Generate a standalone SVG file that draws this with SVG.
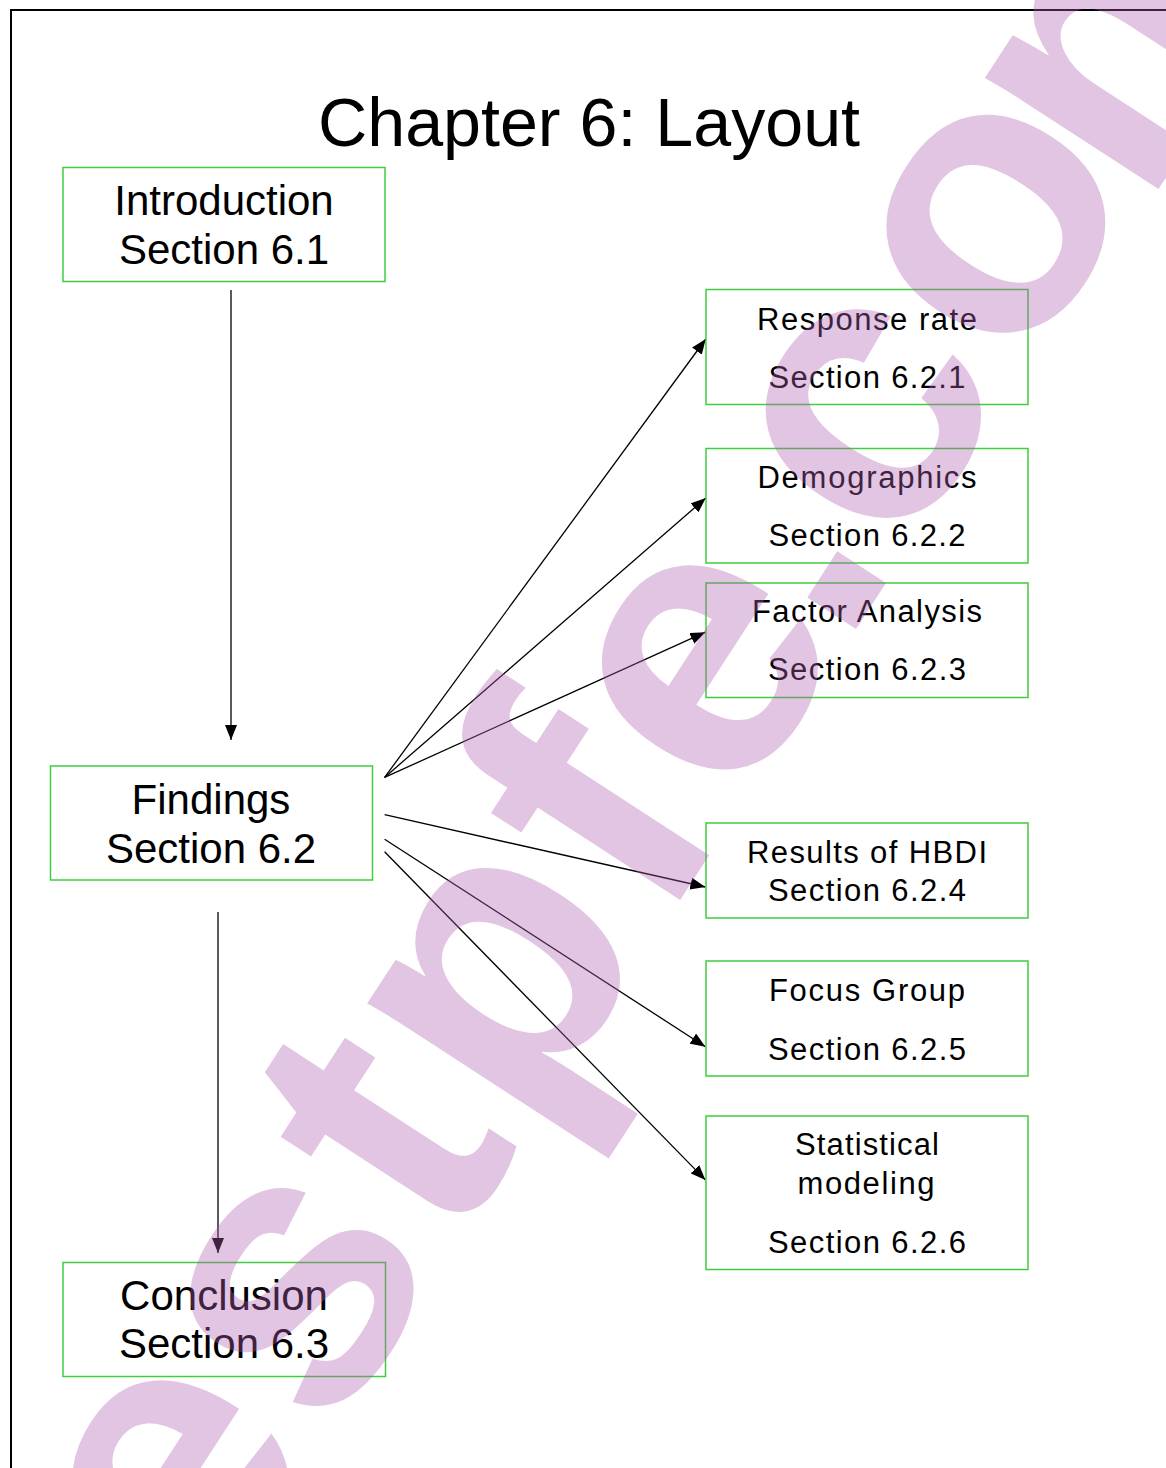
<svg xmlns="http://www.w3.org/2000/svg" width="1166" height="1468" viewBox="0 0 1166 1468">
  <style>
    .box { fill: #ffffff; stroke: #40cc40; stroke-width: 1.5; }
    .big { font-family: "Liberation Sans", Arial, sans-serif; font-size: 42px; fill: #000; text-anchor: middle; }
    .small { font-family: "Liberation Sans", Arial, sans-serif; font-size: 31px; fill: #000; text-anchor: middle; }
    .title { font-family: "Liberation Sans", Arial, sans-serif; font-size: 69px; fill: #000; text-anchor: middle; }
    .edge { fill: none; stroke: #000; stroke-width: 1.3; marker-end: url(#arrow); }
    .wm { font-family: "Liberation Sans", Arial, sans-serif; font-weight: bold; font-size: 390px; fill: #b060b0; }
  </style>
  <defs>
    <marker id="arrow" viewBox="0 0 15 12" refX="15" refY="6" markerWidth="15" markerHeight="12" markerUnits="userSpaceOnUse" orient="auto">
      <path d="M0,0 L15,6 L0,12 z" fill="#000"/>
    </marker>
  </defs>

  <rect width="1166" height="1468" fill="#ffffff"/>
  <!-- page frame -->
  <path d="M11,1468 V10 H1166" fill="none" stroke="#000" stroke-width="2"/>

  <text class="title" x="589" y="146" textLength="542" lengthAdjust="spacingAndGlyphs">Chapter 6: Layout</text>

  <g id="connectors">
    <line class="edge" x1="231" y1="290" x2="231" y2="740"/>
    <line class="edge" x1="218" y1="912" x2="218" y2="1253"/>
    <line class="edge" x1="384.6" y1="777.4" x2="705.8" y2="339"/>
    <line class="edge" x1="384.6" y1="777.4" x2="705.8" y2="498"/>
    <line class="edge" x1="384.6" y1="777.4" x2="705.4" y2="632.2"/>
    <line class="edge" x1="384.6" y1="814.7" x2="705.4" y2="887"/>
    <line class="edge" x1="384.6" y1="839.2" x2="705.4" y2="1046.7"/>
    <line class="edge" x1="384.6" y1="851.7" x2="705.4" y2="1179.9"/>
  </g>

  <g id="introduction">
    <rect class="box" x="63" y="167.5" width="322" height="114"/>
    <text class="big" x="224" y="215">Introduction</text>
    <text class="big" x="224" y="264">Section 6.1</text>
  </g>

  <g id="findings">
    <rect class="box" x="50.5" y="766" width="322" height="114"/>
    <text class="big" x="211" y="814">Findings</text>
    <text class="big" x="211" y="863">Section 6.2</text>
  </g>

  <g id="conclusion">
    <rect class="box" x="63" y="1262.5" width="322.5" height="114"/>
    <text class="big" x="224" y="1310">Conclusion</text>
    <text class="big" x="224" y="1358">Section 6.3</text>
  </g>

  <g id="response-rate">
    <rect class="box" x="706" y="289.5" width="322" height="115"/>
    <text class="small" x="867" y="329.5" textLength="220" lengthAdjust="spacing">Response rate</text>
    <text class="small" x="867" y="387.5" textLength="197" lengthAdjust="spacing">Section 6.2.1</text>
  </g>

  <g id="demographics">
    <rect class="box" x="706" y="448.5" width="322" height="114.5"/>
    <text class="small" x="867" y="488" textLength="219" lengthAdjust="spacing">Demographics</text>
    <text class="small" x="867" y="546" textLength="197" lengthAdjust="spacing">Section 6.2.2</text>
  </g>

  <g id="factor-analysis">
    <rect class="box" x="706" y="583" width="322" height="114.5"/>
    <text class="small" x="867" y="621.5" textLength="230" lengthAdjust="spacing">Factor Analysis</text>
    <text class="small" x="867" y="680" textLength="198" lengthAdjust="spacing">Section 6.2.3</text>
  </g>

  <g id="hbdi-results">
    <rect class="box" x="706" y="823" width="322" height="95"/>
    <text class="small" x="867" y="862.5" textLength="240" lengthAdjust="spacing">Results of HBDI</text>
    <text class="small" x="867" y="901" textLength="198" lengthAdjust="spacing">Section 6.2.4</text>
  </g>

  <g id="focus-group">
    <rect class="box" x="706" y="961" width="322" height="115"/>
    <text class="small" x="867" y="1001" textLength="196" lengthAdjust="spacing">Focus Group</text>
    <text class="small" x="867" y="1059.5" textLength="198" lengthAdjust="spacing">Section 6.2.5</text>
  </g>

  <g id="statistical-modeling">
    <rect class="box" x="706" y="1116" width="322" height="153.5"/>
    <text class="small" x="867" y="1155" textLength="144" lengthAdjust="spacing">Statistical</text>
    <text class="small" x="866" y="1194" textLength="137" lengthAdjust="spacing">modeling</text>
    <text class="small" x="867" y="1252.5" textLength="198" lengthAdjust="spacing">Section 6.2.6</text>
  </g>

  <!-- translucent diagonal watermark laid over the page -->
  <g id="watermark" opacity="0.36">
    <text class="wm" transform="translate(206,1630) rotate(-57)" x="0 224.8 449.6 587.5 833.8 971.7 1167 1271 1490 1700" y="0 0 0 0 0 0 0 0 0 14">estpfe.com</text>
  </g>
</svg>
